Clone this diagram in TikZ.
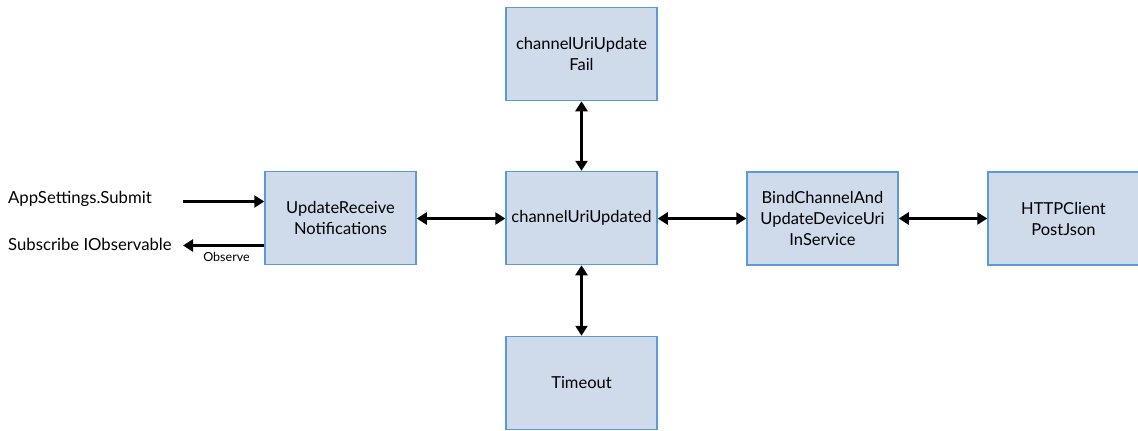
\documentclass[tikz,border=0pt]{standalone}
\usepackage{fontspec}
\setmainfont{Lato}
\usetikzlibrary{arrows.meta}
\definecolor{boxfill}{RGB}{207,218,234}
\definecolor{boxline}{RGB}{91,155,213}
\begin{document}
\begin{tikzpicture}[x=1pt,y=-1pt,
  blk/.style={draw=boxline,fill=boxfill,line width=1.5pt,minimum width=151pt,minimum height=93pt,align=center,font=\fontsize{16.5}{21}\selectfont,inner sep=0pt},
  lbl/.style={font=\fontsize{16.7}{20}\selectfont,inner sep=0pt},
  bi/.style={line width=2.6pt,{Triangle[width=12pt,length=10pt]}-{Triangle[width=12pt,length=10pt]}},
  uni/.style={line width=2.6pt,-{Triangle[width=12pt,length=10pt]}}]
\useasboundingbox (0,0) rectangle (1138,431);
\node[blk] (fail) at (581.5,54) {channelUriUpdate\\Fail};
\node[blk] (upd) at (581.5,218) {channelUriUpdated};
\node[blk] (recv) at (340.5,218) {UpdateReceive\\Notifications};
\node[blk] (bind) at (822.5,218.5) {BindChannelAnd\\UpdateDeviceUri\\InService};
\node[blk] (http) at (1063.5,218.5) {HTTPClient\\PostJson};
\node[blk] (tmo) at (581.5,383) {Timeout};
\node[lbl,anchor=west] (app) at (8,199) {AppSettings.Submit};
\node[lbl,anchor=west] (sub) at (8,244) {Subscribe IObservable};
\coordinate (appE) at (183,201.5);
\coordinate (subE) at (183,245.5);
\node[font=\fontsize{12.5}{14}\selectfont,inner sep=0pt] (obs) at (226.5,256.5) {Observe};
\draw[uni] (appE) -- (recv.west |- appE);
\draw[uni] (recv.west |- subE) -- (subE);
\draw[bi] (recv.east |- 0,218.5) -- (upd.west |- 0,218.5);
\draw[bi] (upd.east |- 0,218.5) -- (bind.west);
\draw[bi] (bind.east) -- (http.west);
\draw[bi] (fail.south) -- (upd.north);
\draw[bi] (upd.south) -- (tmo.north);
\end{tikzpicture}
\end{document}
